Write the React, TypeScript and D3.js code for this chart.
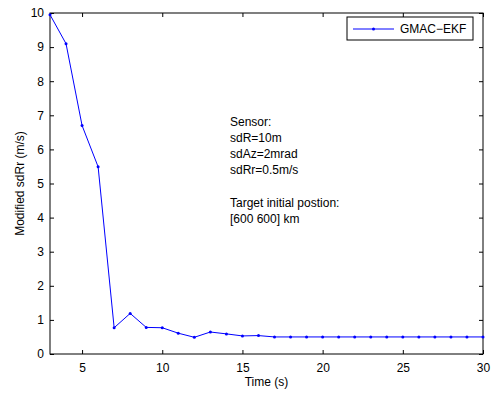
import { useEffect, useRef } from 'react';
import * as d3 from 'd3';

// time steps (s)
const timeSec = [3, 4, 5, 6, 7, 8, 9, 10, 11, 12, 13, 14, 15, 16, 17, 18, 19, 20, 21, 22, 23, 24, 25, 26, 27, 28, 29, 30];
// modified sdRr (m/s) for GMAC-EKF
const sdRr = [9.95, 9.1, 6.7, 5.49, 0.77, 1.19, 0.78, 0.77, 0.61, 0.49, 0.645, 0.59, 0.53, 0.54, 0.5, 0.5, 0.5, 0.5, 0.5, 0.5, 0.5, 0.5, 0.5, 0.5, 0.5, 0.5, 0.5, 0.5];

const xTicks = [5, 10, 15, 20, 25, 30];
const yTicks = [0, 1, 2, 3, 4, 5, 6, 7, 8, 9, 10];
const seriesName = 'GMAC\u2212EKF';
const noteLines = ['Sensor:', 'sdR=10m', 'sdAz=2mrad', 'sdRr=0.5m/s', '', 'Target initial postion:', '[600 600] km'];

export default function App() {
  const svgRef = useRef<SVGSVGElement>(null);

  useEffect(() => {
    if (!svgRef.current) return;
    const width = 491;
    const height = 395;
    const margin = { top: 13, right: 8, bottom: 41, left: 50 };
    const innerWidth = width - margin.left - margin.right;
    const innerHeight = height - margin.top - margin.bottom;
    const font = 'Liberation Sans, Arial, Helvetica, sans-serif';

    const svg = d3.select(svgRef.current);
    svg.selectAll('*').remove();
    svg.attr('width', width).attr('height', height).attr('viewBox', `0 0 ${width} ${height}`);

    svg.append('rect').attr('width', width).attr('height', height).attr('fill', '#fff');

    const g = svg.append('g').attr('transform', `translate(${margin.left},${margin.top})`);

    const x = d3.scaleLinear().domain([3, 30]).range([0, innerWidth]);
    const y = d3.scaleLinear().domain([0, 10]).range([innerHeight, 0]);

    // axes, MATLAB style: inward ticks on every side
    const styleAxis = (sel: d3.Selection<SVGGElement, unknown, null, undefined>) => {
      sel.selectAll('.domain').remove();
      sel.selectAll('.tick line').attr('stroke', '#000').attr('stroke-width', 1);
      sel.selectAll('text').attr('fill', '#000').attr('font-size', '12px').attr('font-family', font);
    };

    g.append('g')
      .attr('transform', `translate(0,${innerHeight})`)
      .call(d3.axisBottom(x).tickValues(xTicks).tickSizeInner(-4).tickSizeOuter(0).tickPadding(9))
      .call(styleAxis);
    g.append('g')
      .call(d3.axisTop(x).tickValues(xTicks).tickSizeInner(-4).tickSizeOuter(0).tickFormat(() => ''))
      .call(styleAxis);
    g.append('g')
      .call(d3.axisLeft(y).tickValues(yTicks).tickSizeInner(-4).tickSizeOuter(0).tickPadding(6))
      .call(styleAxis);
    g.append('g')
      .attr('transform', `translate(${innerWidth},0)`)
      .call(d3.axisRight(y).tickValues(yTicks).tickSizeInner(-4).tickSizeOuter(0).tickFormat(() => ''))
      .call(styleAxis);

    // box
    g.append('rect')
      .attr('width', innerWidth)
      .attr('height', innerHeight)
      .attr('fill', 'none')
      .attr('stroke', '#000')
      .attr('stroke-width', 1);

    const points = timeSec.map((t, i) => [t, sdRr[i]] as [number, number]);

    const line = d3
      .line<[number, number]>()
      .x((d) => x(d[0]))
      .y((d) => y(d[1]));

    g.append('path')
      .datum(points)
      .attr('d', line)
      .attr('fill', 'none')
      .attr('stroke', '#0000ff')
      .attr('stroke-width', 1);

    g.selectAll('circle.pt')
      .data(points)
      .enter()
      .append('circle')
      .attr('class', 'pt')
      .attr('cx', (d) => x(d[0]))
      .attr('cy', (d) => y(d[1]))
      .attr('r', 1.5)
      .attr('fill', '#0000ff');

    // axis labels
    svg.append('text')
      .attr('x', margin.left + innerWidth / 2)
      .attr('y', 386)
      .attr('text-anchor', 'middle')
      .attr('font-size', '12px')
      .attr('font-family', font)
      .text('Time (s)');

    svg.append('text')
      .attr('transform', `translate(24,${margin.top + innerHeight / 2}) rotate(-90)`)
      .attr('text-anchor', 'middle')
      .attr('font-size', '12px')
      .attr('font-family', font)
      .text('Modified sdRr (m/s)');

    // annotation
    const note = svg.append('text').attr('font-size', '12px').attr('font-family', font);
    noteLines.forEach((s, i) => {
      note.append('tspan').attr('x', 230).attr('y', 126 + i * 16.1).text(s);
    });

    // legend
    const lg = svg.append('g').attr('transform', 'translate(347,17)');
    lg.append('rect')
      .attr('width', 126)
      .attr('height', 23)
      .attr('fill', '#fff')
      .attr('stroke', '#000')
      .attr('stroke-width', 1);
    lg.append('line')
      .attr('x1', 6)
      .attr('x2', 47)
      .attr('y1', 12)
      .attr('y2', 12)
      .attr('stroke', '#0000ff')
      .attr('stroke-width', 1);
    lg.append('circle').attr('cx', 26.5).attr('cy', 12).attr('r', 1.5).attr('fill', '#0000ff');
    lg.append('text')
      .attr('x', 53)
      .attr('y', 16)
      .attr('font-size', '12px')
      .attr('font-family', font)
      .text(seriesName);
  }, []);

  return <svg ref={svgRef} style={{ position: 'absolute', left: 0, top: 0 }} />;
}
